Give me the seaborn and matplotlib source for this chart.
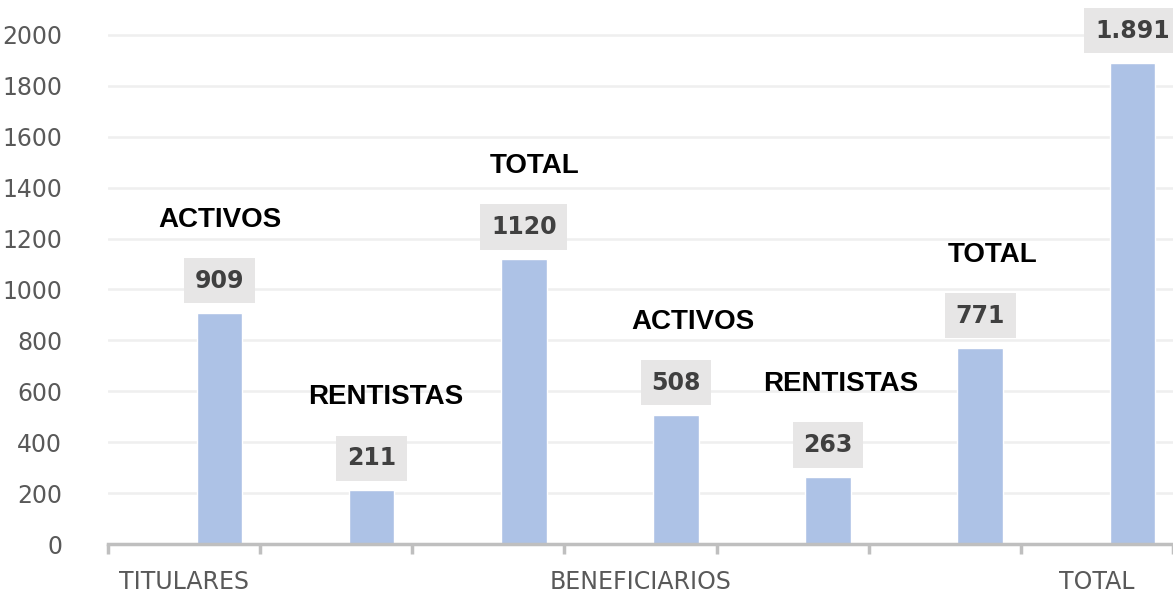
import matplotlib
matplotlib.use("Agg")
import matplotlib.pyplot as plt
import numpy as np
import pandas as pd
import seaborn as sns

sns.set_style("white")

# datos
values = [909, 211, 1120, 508, 263, 771, 1891]
value_text = ["909", "211", "1120", "508", "263", "771", "1.891"]
bar_names = ["ACTIVOS", "RENTISTAS", "TOTAL", "ACTIVOS", "RENTISTAS", "TOTAL", ""]
groups = ["TITULARES", "BENEFICIARIOS", "TOTAL"]
group_first_bar = [0, 3, 6]
y_ticks = [0, 200, 400, 600, 800, 1000, 1200, 1400, 1600, 1800, 2000]

df = pd.DataFrame({"pos": range(len(values)), "valor": values})

fig = plt.figure(figsize=(11.73, 5.96), dpi=100)
ax = fig.add_axes([108 / 1173, 52 / 596, 1 - 108 / 1173, 544 / 596])

sns.barplot(data=df, x="pos", y="valor", color="#adc2e6", saturation=1,
            width=0.30, ax=ax, zorder=2)

shift = 0.733  # los ticks caen en los limites de cada categoria
ax.set_xlim(-shift, 6.237)
ax.set_ylim(0, 2137)

# rejilla
ax.set_yticks(y_ticks)
ax.set_yticklabels([str(v) for v in y_ticks])
ax.yaxis.grid(True, color="#efefef", linewidth=1.8, zorder=0)
ax.xaxis.grid(False)
ax.tick_params(axis="y", length=0, pad=33, labelsize=17, labelcolor="#595959")

for s in ["top", "right", "left"]:
    ax.spines[s].set_visible(False)
ax.spines["bottom"].set_color("#bfbfbf")
ax.spines["bottom"].set_linewidth(2.5)

# ticks mayores en los limites, etiquetas de grupo como ticks menores
ax.set_xticks(np.arange(len(values) + 1) - shift)
ax.set_xticklabels([])
ax.tick_params(axis="x", which="major", bottom=True, direction="out",
               length=7, width=2.5, color="#bfbfbf")
ax.set_xticks([i - shift + 0.5 for i in group_first_bar], minor=True)
ax.set_xticklabels(groups, minor=True)
ax.tick_params(axis="x", which="minor", bottom=False, length=0, pad=19,
               labelsize=17, labelcolor="#595959")
ax.set_xlabel("")
ax.set_ylabel("")

# etiquetas de valor y nombres
name_dx = [0, 10, 8, 12, 9, 9, 0]
for i, (v, t, n) in enumerate(zip(values, value_text, bar_names)):
    ax.annotate(t, (i, v), xytext=(0, 23), textcoords="offset points",
                ha="center", va="center", fontsize=17, fontweight="bold",
                color="#404040", zorder=3,
                bbox=dict(boxstyle="square,pad=0.45", fc="#e7e6e6", ec="none"))
    if n:
        ax.annotate(n, (i, v), xytext=(name_dx[i], 67), textcoords="offset points",
                    ha="center", va="center", fontsize=20, fontweight="bold",
                    family=["Liberation Sans", "DejaVu Sans"], color="black",
                    zorder=3)

fig.savefig("out.png", dpi=100)
